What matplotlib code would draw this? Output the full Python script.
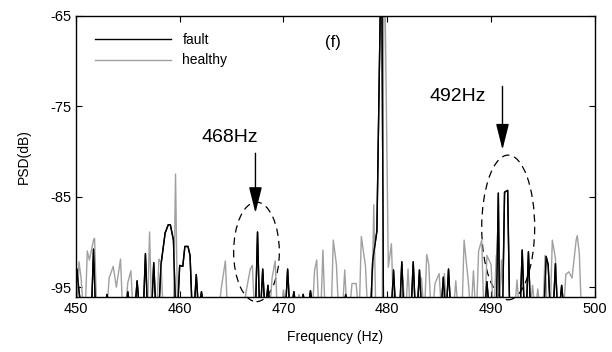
import numpy as np
import matplotlib
matplotlib.use('Agg')
import matplotlib.pyplot as plt
from matplotlib.patches import Ellipse

plt.rcParams['font.family'] = ['Liberation Sans', 'DejaVu Sans']
plt.rcParams['axes.unicode_minus'] = False

# spike peaks (Hz, dB); between spikes the PSD drops to the floor
fault_f = [450.1, 450.3, 451.7, 453.0, 455.0, 455.9, 456.7, 457.5, 458.2, 458.6, 458.9,
           459.1, 459.4, 460.0, 460.3, 460.5, 460.8, 461.0, 461.6, 462.1, 467.5, 468.0,
           468.5, 470.4, 471.0, 471.9, 472.6, 476.0, 478.6, 479.0, 479.45, 480.6, 481.4,
           482.5, 483.1, 485.4, 485.9, 489.6, 490.7, 490.8, 491.3, 491.6, 493.0, 493.6,
           495.3, 495.5, 496.2, 496.8]
fault_db = [-93.0, -95.5, -90.8, -95.8, -95.5, -94.3, -91.3, -92.3, -92.5, -89.0, -88.1,
            -88.1, -89.8, -92.6, -92.7, -90.5, -90.5, -91.5, -93.6, -95.5, -88.9, -93.0,
            -94.8, -93.0, -95.5, -95.8, -95.4, -95.8, -92.0, -88.8, -55.0, -93.1, -92.2,
            -92.2, -93.1, -93.9, -93.0, -94.4, -84.6, -96.0, -84.5, -84.3, -90.9, -91.1,
            -91.6, -92.5, -92.4, -94.8]

healthy_f = [450.3, 450.5, 451.1, 451.3, 451.7, 451.8, 453.2, 453.6, 453.9, 454.3, 455.0,
             455.3, 457.1, 458.0, 458.2, 459.6, 464.0, 464.4, 466.4, 466.8, 467.0, 468.9,
             469.2, 470.0, 471.5, 473.0, 473.2, 473.8, 474.8, 475.1, 475.9, 476.6, 477.0,
             477.5, 477.9, 478.7, 479.7, 480.1, 480.4, 481.5, 482.0, 483.3, 483.8, 484.0,
             484.6, 485.0, 485.5, 486.6, 487.4, 487.8, 488.3, 488.8, 489.1, 489.6, 490.0,
             490.5, 491.0, 492.5, 494.0, 494.5, 495.2, 495.9, 496.2, 497.2, 497.5, 497.8,
             498.2, 498.3, 498.5]
healthy_db = [-92.2, -94.0, -91.0, -92.0, -89.8, -89.6, -94.0, -92.7, -95.0, -91.9, -94.5,
              -93.2, -88.9, -91.9, -92.3, -82.5, -95.2, -92.1, -95.5, -93.0, -92.6, -94.0,
              -92.1, -95.3, -95.8, -93.1, -92.0, -90.9, -89.8, -92.5, -93.1, -94.6, -94.6,
              -89.4, -92.7, -85.9, -55.0, -92.8, -90.2, -94.2, -93.0, -94.0, -91.4, -92.5,
              -94.6, -93.5, -93.5, -94.3, -89.8, -94.3, -93.2, -91.0, -89.8, -91.5, -92.5,
              -91.5, -92.0, -94.2, -94.8, -95.2, -91.5, -89.8, -91.8, -93.6, -93.3, -94.0,
              -89.8, -89.3, -91.2]

floor_db = -97.0


def spike_line(f, db, gap=0.45, w=0.18):
    xs, ys = [450.0], [floor_db]
    for i in range(len(f)):
        if i == 0 or f[i] - f[i - 1] > gap:
            xs.append(f[i] - w)
            ys.append(floor_db)
        xs.append(f[i])
        ys.append(db[i])
        if i == len(f) - 1 or f[i + 1] - f[i] > gap:
            xs.append(f[i] + w)
            ys.append(floor_db)
    xs.append(500.0)
    ys.append(floor_db)
    return xs, ys


fig = plt.figure(figsize=(6.12, 3.52), dpi=100)
ax = fig.add_axes([0.124, 0.156, 0.848, 0.799])

hx, hy = spike_line(healthy_f, healthy_db)
fx, fy = spike_line(fault_f, fault_db)
ax.plot(fx, fy, color='black', lw=1.0, label='fault')
ax.plot(hx, hy, color='#a0a0a0', lw=1.0, label='healthy')
# draw fault on top again so it sits over the gray
ax.plot(fx, fy, color='black', lw=1.0)

ax.set_xlim(450, 500)
ax.set_ylim(-96.1, -65)
ax.set_xticks([450, 460, 470, 480, 490, 500])
ax.set_yticks([-95, -85, -75, -65])
ax.tick_params(direction='in', top=True, right=True, labelsize=10.5, length=4)
for s in ax.spines.values():
    s.set_linewidth(1.0)

ax.set_xlabel('Frequency (Hz)', fontsize=10, labelpad=10)
ax.set_ylabel('PSD(dB)', fontsize=10, labelpad=14)

ax.legend(loc='upper left', frameon=False, fontsize=10, handlelength=5.5,
          bbox_to_anchor=(0.01, 0.99), borderaxespad=0.6)

ax.text(474.8, -68.0, '(f)', fontsize=12, ha='center', va='center')

# annotations
ax.text(464.8, -78.5, '468Hz', fontsize=14, ha='center', va='center')
ax.annotate('', xy=(467.3, -86.8), xytext=(467.3, -80.2),
            arrowprops=dict(arrowstyle='-|>,head_length=1.6,head_width=0.4',
                            color='black', lw=1, shrinkA=0, shrinkB=0))
ax.text(486.8, -73.9, '492Hz', fontsize=14, ha='center', va='center')
ax.annotate('', xy=(491.1, -79.8), xytext=(491.1, -72.8),
            arrowprops=dict(arrowstyle='-|>,head_length=1.6,head_width=0.4',
                            color='black', lw=1, shrinkA=0, shrinkB=0))

ax.add_patch(Ellipse((467.4, -91.1), 4.4, 11.0, fill=False, ls=(0, (6, 4)),
                     lw=0.9, ec='black', clip_on=False))
ax.add_patch(Ellipse((491.65, -88.4), 5.1, 16.0, fill=False, ls=(0, (6, 4)),
                     lw=0.9, ec='black', clip_on=False))

fig.savefig('out.png', dpi=100)
